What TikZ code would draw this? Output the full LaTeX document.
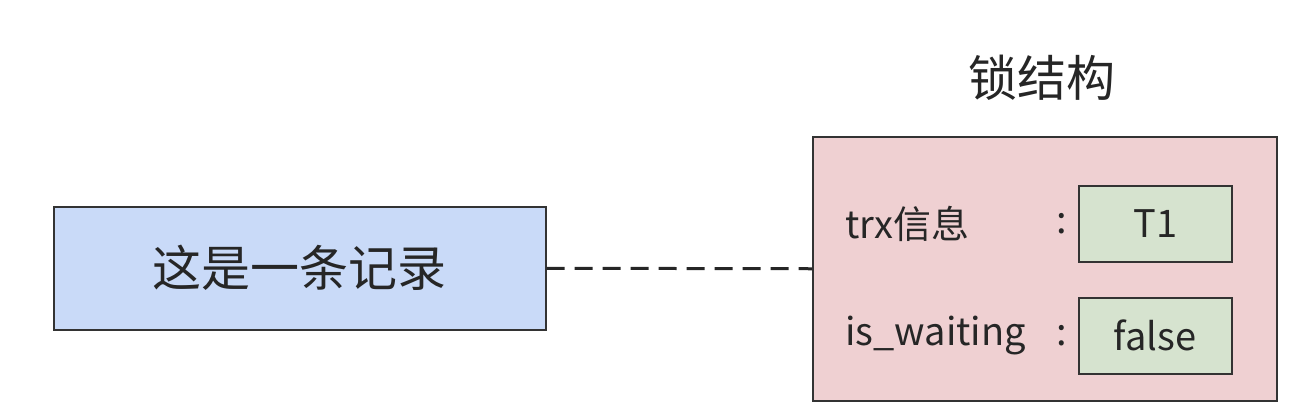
\documentclass[tikz,border=0pt]{standalone}
\usepackage{fontspec}
\setmainfont{Noto Sans CJK SC}
\begin{document}
\begin{tikzpicture}[x=1pt,y=-1pt,
  box/.style={draw=black!80,line width=1.5pt,inner sep=0pt,anchor=north west},
  lbl/.style={font=\fontsize{38}{42}\selectfont,text=black!85,anchor=west,inner sep=0pt}]
\useasboundingbox (0,0) rectangle (1304,408);
\definecolor{recblue}{HTML}{C9DAF8}
\definecolor{lockpink}{HTML}{EFD0D2}
\definecolor{valgreen}{HTML}{D6E3CF}
\node[box,fill=recblue,minimum width=492pt,minimum height=123pt] (rec) at (53,206) {};
\node[font=\fontsize{49}{52}\selectfont,text=black!85] at (rec.center) {这是一条记录};
\node[box,fill=lockpink,minimum width=464pt,minimum height=264pt] (lock) at (812,136) {};
\node[font=\fontsize{49}{52}\selectfont,text=black!85] (title) at (1042,78) {锁结构};
\node[box,fill=valgreen,minimum width=153pt,minimum height=76pt] (t1) at (1078,185) {};
\node[font=\fontsize{38}{42}\selectfont,text=black!85] at (t1.center) {T1};
\node[box,fill=valgreen,minimum width=153pt,minimum height=76pt] (fv) at (1078,297) {};
\node[font=\fontsize{38}{42}\selectfont,text=black!85] at (fv.center) {false};
\node[lbl] (trx) at (845,224) {trx信息};
\node[lbl] (isw) at (845,336) {is\_waiting};
\node[lbl] (c1) at (1056,224) {:};
\node[lbl] (c2) at (1056,336) {:};
\draw[black!85,line width=3pt,dash pattern=on 18pt off 10pt] (rec.east) -- (lock.west);
\end{tikzpicture}
\end{document}
